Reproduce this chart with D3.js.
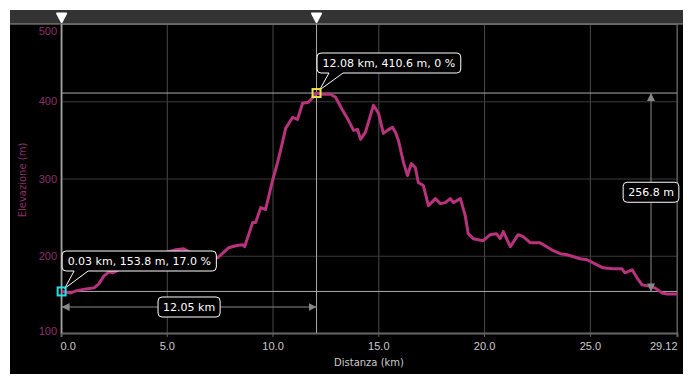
<!DOCTYPE html>
<html>
<head>
<meta charset="utf-8">
<script src="https://cdn.jsdelivr.net/npm/d3@7"></script>
<style>
	body { margin: 0; background: #fff; }
	svg { display: block; font-family: 'DejaVu Sans', Verdana, sans-serif; }
</style>
</head>
<body>
<svg id="chart"></svg>
<script>

var w = 693;
var h = 385;

// profile: distance (km) / elevation (m)
var dist = [0.03, 0.47, 0.71, 1.18, 1.56, 1.79, 2.03, 2.27, 2.45, 3.30, 4.25, 4.96, 5.43, 5.80, 6.13, 6.61,
	7.22, 7.41, 7.93, 8.26, 8.59, 8.68, 9.06, 9.20, 9.44, 9.67, 10.00, 10.24, 10.38, 10.62, 10.95, 11.18,
	11.42, 11.70, 12.08, 12.36, 12.74, 12.98, 13.31, 13.59, 13.83, 14.02, 14.16, 14.39, 14.77, 15.01,
	15.24, 15.43, 15.67, 15.81, 15.95, 16.19, 16.38, 16.56, 16.75, 16.89, 17.13, 17.37, 17.70, 17.93,
	18.17, 18.40, 18.55, 18.88, 19.11, 19.25, 19.49, 19.96, 20.29, 20.58, 20.76, 20.91, 21.24, 21.61,
	21.85, 22.18, 22.65, 23.27, 23.60, 23.93, 24.54, 24.87, 25.34, 25.63, 26.10, 26.52, 26.66, 27.00,
	27.23, 27.47, 27.75, 28.08, 28.41, 28.65, 29.12];
var elev = [153.8, 151.9, 154.5, 157.1, 158.4, 163.6, 174.0, 179.2, 177.9, 190.9, 196.1, 203.9, 207.8, 209.1, 203.9, 200.0,
	197.4, 197.4, 210.4, 213.0, 214.3, 211.7, 242.9, 242.9, 262.3, 259.7, 297.4, 320.8, 336.4, 364.9, 379.2, 376.6,
	397.4, 398.7, 410.6, 409.1, 409.1, 405.2, 388.3, 375.3, 362.3, 363.6, 350.6, 359.7, 394.8, 384.4,
	358.4, 362.3, 366.2, 359.7, 349.4, 320.8, 303.9, 319.5, 314.3, 294.8, 290.9, 264.9, 274.0, 267.5,
	268.8, 274.0, 268.8, 274.0, 251.9, 228.6, 222.1, 219.5, 227.3, 228.6, 222.1, 231.2, 211.7, 227.3,
	224.7, 216.9, 216.9, 206.5, 202.6, 201.3, 196.1, 194.8, 188.3, 184.4, 183.1, 183.1, 177.9, 181.8,
	171.4, 162.3, 161.0, 158.4, 151.9, 150.6, 150.6];

var xTicks = [0, 5, 10, 15, 20, 25, 29.12];
var yTicks = [100, 200, 300, 400, 500];

// the two selected points
var markKm = [0.03, 12.08];
var markElev = [153.8, 410.6];
var markGrade = ['17.0', '0'];
var markColor = ['#22e0e8', '#e8e84a'];

var lineColor = '#b8327c';

var svg = d3.select('#chart').attr('width', w).attr('height', h);

// frame
svg.append('rect').attr('x', 10).attr('y', 10).attr('width', 673).attr('height', 364).attr('fill', '#000');
svg.append('rect').attr('x', 10).attr('y', 10).attr('width', 673).attr('height', 14).attr('fill', '#333');

var x = d3.scaleLinear().domain([0, 29.12]).range([61, 677]);
var y = d3.scaleLinear().domain([100, 500]).range([333, 24]);

// grid
svg.append('g')
	.attr('transform', 'translate(0,333)')
	.call(d3.axisBottom(x).tickValues(xTicks).tickSize(-309).tickFormat(''))
	.call(g => g.select('.domain').remove())
	.call(g => g.selectAll('line').attr('stroke', '#4a4a4a'));

svg.append('g')
	.attr('transform', 'translate(61,0)')
	.call(d3.axisLeft(y).tickValues(yTicks).tickSize(-616).tickFormat(''))
	.call(g => g.select('.domain').remove())
	.call(g => g.selectAll('line').attr('stroke', '#3a3a3a'));

// frame lines
svg.append('line').attr('x1', 10).attr('x2', 683).attr('y1', 24).attr('y2', 24).attr('stroke', '#999');
svg.append('line').attr('x1', 677).attr('x2', 677).attr('y1', 24).attr('y2', 333).attr('stroke', '#666');

// x axis
var xa = svg.append('g')
	.attr('transform', 'translate(0,333)')
	.call(d3.axisBottom(x).tickValues(xTicks).tickSize(4).tickPadding(5)
		.tickFormat(d => d == 29.12 ? '29.12' : d3.format('.1f')(d)));
xa.select('.domain').attr('stroke', '#666').attr('stroke-width', 2);
xa.selectAll('line').attr('stroke', '#666');
xa.selectAll('text').attr('fill', '#ccc').style('font-size', '11px')
	.attr('text-anchor', (d, i) => i == 0 ? 'start' : (i == xTicks.length - 1 ? 'end' : 'middle'))
	.attr('dx', (d, i) => i == 0 ? -1 : 0);

// y axis
var ya = svg.append('g')
	.attr('transform', 'translate(61,0)')
	.call(d3.axisLeft(y).tickValues(yTicks).tickSize(0).tickPadding(4));
ya.select('.domain').attr('stroke', '#777').attr('stroke-width', 2);
ya.selectAll('text').attr('fill', '#8e3068').style('font-size', '11px')
	.attr('dy', d => d == 500 ? '0.95em' : (d == 100 ? '0.1em' : '0.32em'));

svg.append('text')
	.attr('transform', 'translate(26,180) rotate(-90)')
	.attr('text-anchor', 'middle')
	.attr('fill', '#8e3068')
	.style('font-size', '10px')
	.text('Elevazione (m)');

svg.append('text')
	.attr('x', 369).attr('y', 366)
	.attr('text-anchor', 'middle')
	.attr('fill', '#ccc')
	.style('font-size', '10px')
	.text('Distanza (km)');

// selection guide lines
markKm.forEach(function(k, i) {
	svg.append('line').attr('x1', x(k)).attr('x2', x(k)).attr('y1', 24).attr('y2', 333)
		.attr('stroke', '#aaa');
	svg.append('line').attr('x1', 61).attr('x2', 677).attr('y1', y(markElev[i])).attr('y2', y(markElev[i]))
		.attr('stroke', '#aaa');
	// pin in the top bar
	svg.append('path')
		.attr('d', 'M' + (x(k) - 4.5) + ',13.5 L' + (x(k) + 4.5) + ',13.5 L' + x(k) + ',22 Z')
		.attr('fill', '#fff').attr('stroke', '#fff').attr('stroke-width', 2).attr('stroke-linejoin', 'round');
});

// profile
var line = d3.line()
	.x((d, i) => x(dist[i]))
	.y(d => y(d));

svg.append('path')
	.datum(elev)
	.attr('d', line)
	.attr('fill', 'none')
	.attr('stroke', lineColor)
	.attr('stroke-width', 3)
	.attr('stroke-linejoin', 'round');

// measure arrows
var arrowCol = '#888';
svg.append('defs').append('marker')
	.attr('id', 'arr')
	.attr('viewBox', '0 0 10 10')
	.attr('refX', 10).attr('refY', 5)
	.attr('markerWidth', 8).attr('markerHeight', 8)
	.attr('markerUnits', 'userSpaceOnUse')
	.attr('orient', 'auto-start-reverse')
	.append('path').attr('d', 'M0,0 L10,5 L0,10 Z').attr('fill', arrowCol);

var x0 = x(markKm[0]), x1 = x(markKm[1]);
var y0 = y(markElev[0]), y1 = y(markElev[1]);

svg.append('line').attr('x1', x0).attr('x2', x1).attr('y1', 307).attr('y2', 307)
	.attr('stroke', arrowCol).attr('marker-start', 'url(#arr)').attr('marker-end', 'url(#arr)');
svg.append('line').attr('x1', 651).attr('x2', 651).attr('y1', y1).attr('y2', y0)
	.attr('stroke', arrowCol).attr('marker-start', 'url(#arr)').attr('marker-end', 'url(#arr)');

function labelBox(cx, cy, txt) {
	var g = svg.append('g');
	var t = g.append('text').attr('x', cx).attr('y', cy).attr('dy', '0.35em')
		.attr('text-anchor', 'middle').attr('fill', '#fff').style('font-size', '11px').text(txt);
	var bb = t.node().getBBox();
	g.insert('rect', 'text')
		.attr('x', bb.x - 5).attr('y', cy - 10).attr('width', bb.width + 10).attr('height', 20)
		.attr('rx', 4).attr('fill', '#000').attr('stroke', '#fff');
}

labelBox((x0 + x1) / 2, 307, d3.format('.2f')(markKm[1] - markKm[0]) + ' km');
labelBox(651, (y0 + y1) / 2, d3.format('.1f')(markElev[1] - markElev[0]) + ' m');

// callouts
var callTop = [251, 53];
markKm.forEach(function(k, i) {
	var px = x(k), py = y(markElev[i]);
	var top = callTop[i];
	var g = svg.append('g');
	var t = g.append('text').attr('x', px + 6).attr('y', top + 10).attr('dy', '0.35em')
		.attr('fill', '#fff').style('font-size', '11px')
		.text(d3.format('.2f')(k) + ' km, ' + d3.format('.1f')(markElev[i]) + ' m, ' + markGrade[i] + ' %');
	var bw = t.node().getBBox().width + 11;
	var l = px + 0.5, r = l + bw, b = top + 20, rr = 4;
	var d = 'M' + (l + rr) + ',' + top +
		' L' + (r - rr) + ',' + top + ' Q' + r + ',' + top + ' ' + r + ',' + (top + rr) +
		' L' + r + ',' + (b - rr) + ' Q' + r + ',' + b + ' ' + (r - rr) + ',' + b +
		' L' + (l + 26) + ',' + b + ' L' + (px + 3) + ',' + (py - 3) + ' L' + (l + 12) + ',' + b +
		' L' + (l + rr) + ',' + b + ' Q' + l + ',' + b + ' ' + l + ',' + (b - rr) +
		' L' + l + ',' + (top + rr) + ' Q' + l + ',' + top + ' ' + (l + rr) + ',' + top + ' Z';
	g.insert('path', 'text').attr('d', d).attr('fill', '#000').attr('stroke', '#fff');

	svg.append('rect')
		.attr('x', px - 4).attr('y', py - 4).attr('width', 8).attr('height', 8)
		.attr('fill', 'none').attr('stroke', markColor[i]).attr('stroke-width', 2);
});

</script>
</body>
</html>
